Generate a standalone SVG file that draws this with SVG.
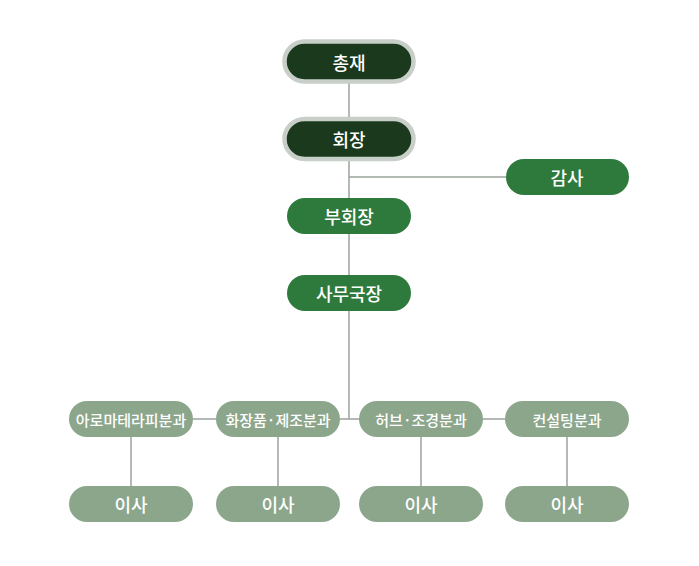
<svg xmlns="http://www.w3.org/2000/svg" width="699" height="566" viewBox="0 0 699 566">
<style>
.line{stroke:#9aa39a;stroke-width:1.5;fill:none}
.top{fill:#1b3a1d;stroke:#c8cfc8;stroke-width:4.5}
.mid{fill:#2e7a3d}
.dept{fill:#8ca68c}
text{font-family:"Noto Sans CJK KR","Noto Sans",sans-serif;fill:#ffffff;text-anchor:middle;dominant-baseline:central}
.t1{font-size:18px;font-weight:500}
.t2{font-size:15px;font-weight:500}
</style>
<rect width="699" height="566" fill="#ffffff"/>
<g id="connectors">
<line class="line" x1="349" y1="62" x2="349" y2="419"/>
<line class="line" x1="349" y1="177" x2="506" y2="177"/>
<line class="line" x1="193" y1="419" x2="505" y2="419"/>
<line class="line" x1="131" y1="437" x2="131" y2="486"/>
<line class="line" x1="278" y1="437" x2="278" y2="486"/>
<line class="line" x1="421" y1="437" x2="421" y2="486"/>
<line class="line" x1="567" y1="437" x2="567" y2="486"/>
</g>
<g id="n-chongjae"><rect class="top" x="284.5" y="41.5" width="129" height="40" rx="20"/><text class="t1" x="349" y="62">총재</text></g>
<g id="n-hoejang"><rect class="top" x="284.5" y="119" width="129" height="40" rx="20"/><text class="t1" x="349" y="139">회장</text></g>
<g id="n-gamsa"><rect class="mid" x="506" y="159" width="123" height="36" rx="18"/><text class="t1" x="567" y="177">감사</text></g>
<g id="n-buhoejang"><rect class="mid" x="287" y="198" width="124" height="36" rx="18"/><text class="t1" x="349" y="216">부회장</text></g>
<g id="n-samuguk"><rect class="mid" x="287" y="275" width="124" height="36" rx="18"/><text class="t1" x="349" y="293">사무국장</text></g>
<g id="n-aroma"><rect class="dept" x="69" y="401" width="124" height="36" rx="18"/><text class="t2" x="131" y="419">아로마테라피분과</text></g>
<g id="n-cosmetic"><rect class="dept" x="216" y="401" width="124" height="36" rx="18"/><text class="t2" x="278" y="419">화장품·제조분과</text></g>
<g id="n-herb"><rect class="dept" x="359" y="401" width="124" height="36" rx="18"/><text class="t2" x="421" y="419">허브·조경분과</text></g>
<g id="n-consult"><rect class="dept" x="505" y="401" width="124" height="36" rx="18"/><text class="t2" x="567" y="419">컨설팅분과</text></g>
<g id="n-isa1"><rect class="dept" x="69" y="486" width="124" height="36" rx="18"/><text class="t1" x="131" y="504">이사</text></g>
<g id="n-isa2"><rect class="dept" x="216" y="486" width="124" height="36" rx="18"/><text class="t1" x="278" y="504">이사</text></g>
<g id="n-isa3"><rect class="dept" x="359" y="486" width="124" height="36" rx="18"/><text class="t1" x="421" y="504">이사</text></g>
<g id="n-isa4"><rect class="dept" x="505" y="486" width="124" height="36" rx="18"/><text class="t1" x="567" y="504">이사</text></g>
</svg>
